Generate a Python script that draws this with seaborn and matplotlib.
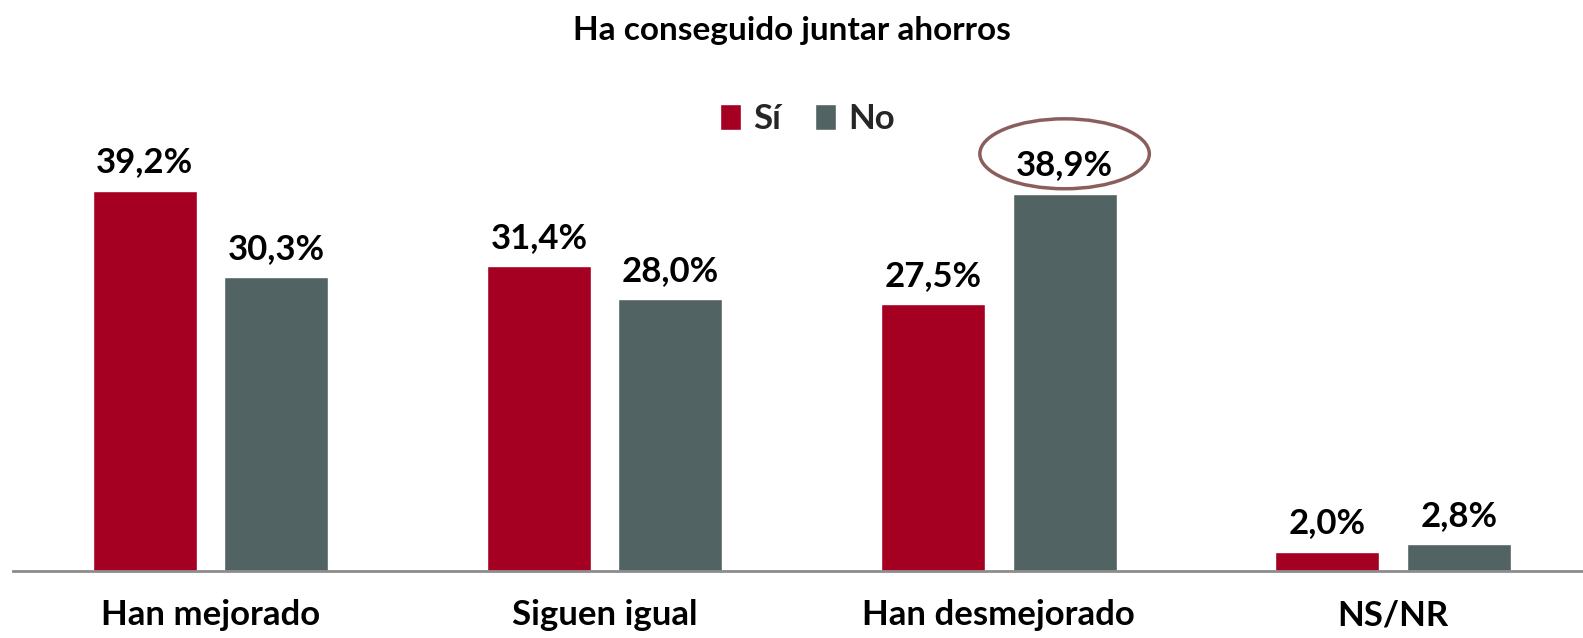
import numpy as np
import pandas as pd
import matplotlib
matplotlib.use("Agg")
import matplotlib.pyplot as plt
import seaborn as sns
from matplotlib.patches import Ellipse

# ─── Data ────────────────────────────────────────────────────────────────────
categories = ["Han mejorado", "Siguen igual", "Han desmejorado", "NS/NR"]
si_values  = [39.2, 31.4, 27.5, 2.0]
no_values  = [30.3, 28.0, 38.9, 2.8]
series     = ["Sí", "No"]

TITLE   = "Ha conseguido juntar ahorros"
COLORS  = {"Sí": "#A50021", "No": "#526363"}
HILITE  = ("Han desmejorado", "No")   # circled label

df = pd.DataFrame({
    "categoria": categories * 2,
    "serie":     ["Sí"] * len(categories) + ["No"] * len(categories),
    "valor":     si_values + no_values,
})

# ─── Style ───────────────────────────────────────────────────────────────────
sns.set_theme(style="white")
plt.rcParams["font.family"] = ["Lato", "DejaVu Sans"]
FS = 25

fig = plt.figure(figsize=(15.83, 6.38), dpi=100)
ax = fig.add_axes([0.0085, 0.1044, 0.9915, 0.685])

sns.barplot(data=df, x="categoria", y="valor", hue="serie",
            hue_order=series, order=categories, palette=COLORS,
            width=0.667, gap=0.21, saturation=1, ax=ax)

ax.set_xlim(-0.5, 3.482)
ax.set_ylim(0, 45)

# ─── Value labels ────────────────────────────────────────────────────────────
for container, name in zip(ax.containers, series):
    for bar, cat, val in zip(container, categories, df[df.serie == name].valor):
        x = bar.get_x() + bar.get_width() / 2
        ax.annotate(f"{val:.1f}".replace(".", ",") + "%",
                    (x, bar.get_height()), xytext=(0, 9),
                    textcoords="offset points", ha="center", va="bottom",
                    fontsize=FS, fontweight="bold", color="black")
        if (cat, name) == HILITE:
            ell = Ellipse((x, val + 4.1), width=0.43, height=7.2,
                          fill=False, edgecolor="#8B5E5E", linewidth=2.5,
                          clip_on=False)
            ax.add_patch(ell)

# ─── Axes cosmetics ──────────────────────────────────────────────────────────
sns.despine(ax=ax, left=True, top=True, right=True)
ax.spines["bottom"].set_color("#8C8C8C")
ax.spines["bottom"].set_linewidth(2)
ax.set_yticks([])
ax.set_xlabel("")
ax.set_ylabel("")
ax.tick_params(axis="x", length=0, pad=20)
for lbl in ax.get_xticklabels():
    lbl.set_fontsize(FS)
    lbl.set_fontweight("bold")
    lbl.set_color("black")

ax.legend(loc="center", bbox_to_anchor=(0.51, 0.813),
          bbox_transform=fig.transFigure, ncol=2, frameon=False,
          handlelength=0.6, handleheight=0.75,
          handletextpad=0.35, columnspacing=1.0,
          prop={"weight": "bold", "size": FS})

fig.text(0.5, 0.9525, TITLE, ha="center", va="center",
         fontsize=24, fontweight="bold", color="black")

fig.savefig("out.png", dpi=100)
